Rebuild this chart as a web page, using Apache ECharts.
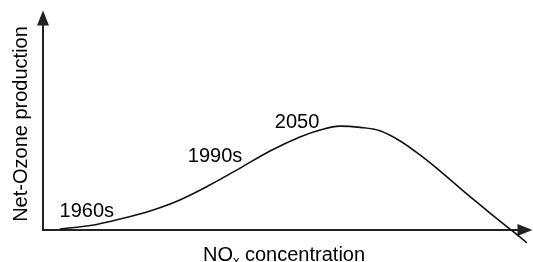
<!DOCTYPE html>
<html>
<head>
<meta charset="utf-8">
<script src="https://cdn.jsdelivr.net/npm/echarts@6/dist/echarts.min.js"></script>
<style>
  html, body { margin: 0; padding: 0; background: #fff; }
  #main { width: 533px; height: 262px; }
</style>
</head>
<body>
<div id="main"></div>
<script>
  // curve (x: NOx, y: net ozone production)
  var curveX = [3.5, 9.8, 16.0, 22.2, 28.4, 34.6, 40.9, 47.1, 53.3, 57.5, 61.6, 65.8, 69.9, 74.1, 78.2, 82.4, 86.5, 90.7, 94.8, 97.9, 100.4];
  var curveY = [0.5, 2.1, 5.2, 9.0, 14.2, 21.2, 29.2, 37.3, 43.9, 47.2, 49.0, 48.4, 46.8, 42.0, 35.4, 27.8, 19.8, 11.8, 4.2, -1.4, -6.1];

  // era labels along the curve
  var eraNames = ['1960s', '1990s', '2050'];
  var eraX = [9.1, 35.7, 52.7];
  var eraY = [8.5, 34.9, 50.5];

  var font = 'Liberation Sans';
  var myChart = echarts.init(document.getElementById('main'));

  var curveData = curveX.map(function (x, i) { return [x, curveY[i]]; });
  var eraData = eraNames.map(function (n, i) { return { name: n, value: [eraX[i], eraY[i]] }; });

  var option = {
    animation: false,
    grid: { left: 43, right: 8, top: 18, bottom: 32, outerBoundsMode: 'none' },
    xAxis: {
      type: 'value',
      min: 0,
      max: 100,
      name: '{a|NO}{b|x}{a| concentration}',
      nameLocation: 'middle',
      nameGap: 12,
      nameTextStyle: {
        verticalAlign: 'top',
        rich: {
          a: { fontFamily: font, fontSize: 20, color: '#000' },
          b: { fontFamily: font, fontSize: 13, color: '#000', padding: [13, 0, 0, 0] }
        }
      },
      axisLine: {
        onZero: false,
        symbol: ['none', 'triangle'],
        symbolSize: [12, 15],
        lineStyle: { color: '#222', width: 2 }
      },
      axisTick: { show: false },
      axisLabel: { show: false },
      splitLine: { show: false }
    },
    yAxis: {
      type: 'value',
      min: 0,
      max: 100,
      name: 'Net-Ozone production',
      nameLocation: 'middle',
      nameRotate: 90,
      nameGap: 12,
      nameTextStyle: { fontFamily: font, fontSize: 20, color: '#000' },
      axisLine: {
        show: true,
        onZero: false,
        symbol: ['none', 'triangle'],
        symbolSize: [12, 15],
        lineStyle: { color: '#222', width: 2 }
      },
      axisTick: { show: false },
      axisLabel: { show: false },
      splitLine: { show: false }
    },
    series: [
      {
        type: 'line',
        data: curveData,
        smooth: 0.35,
        clip: false,
        showSymbol: false,
        lineStyle: { color: '#111', width: 1.6 }
      },
      {
        type: 'scatter',
        data: eraData,
        symbolSize: 1,
        itemStyle: { color: 'rgba(0,0,0,0)', opacity: 1 },
        label: {
          show: true,
          position: 'inside',
          formatter: '{b}',
          fontFamily: font,
          fontSize: 20,
          color: '#000'
        }
      }
    ]
  };

  myChart.setOption(option);
</script>
</body>
</html>
